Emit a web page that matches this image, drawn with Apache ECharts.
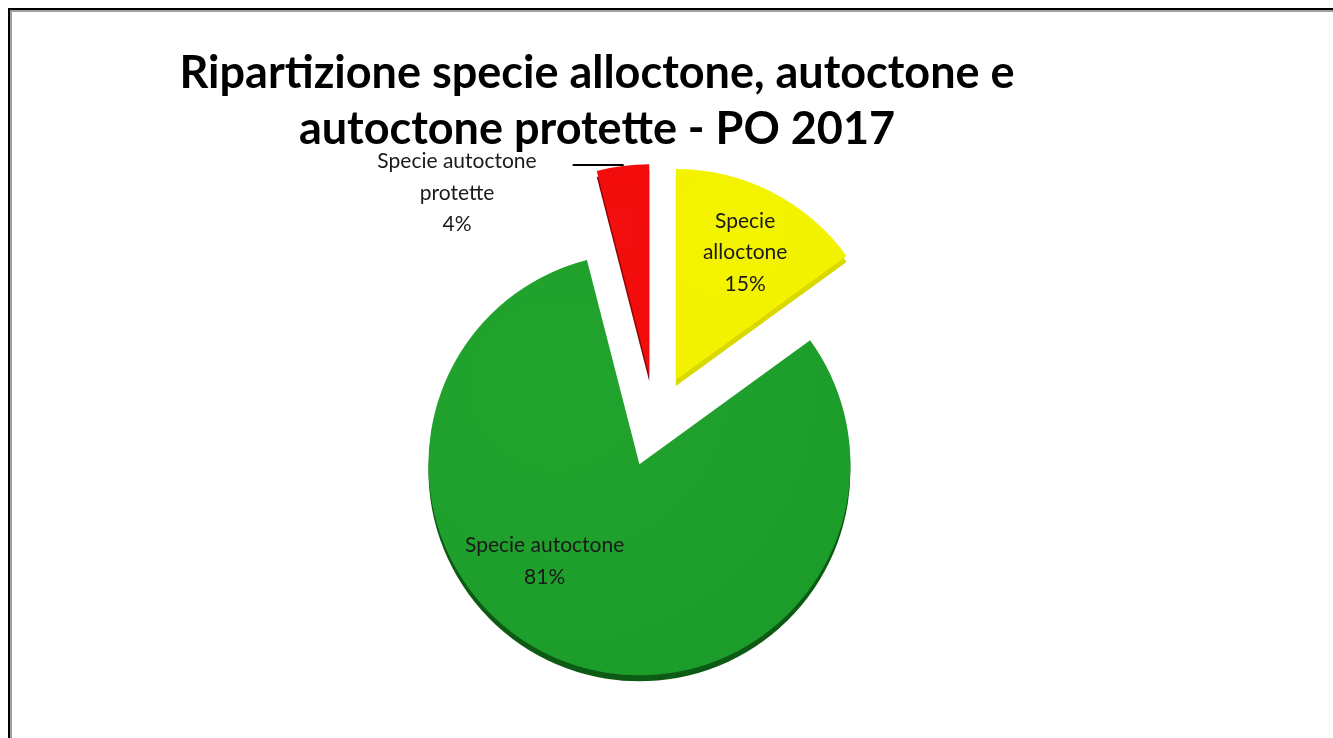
<!DOCTYPE html>
<html>
<head>
<meta charset="utf-8">
<script src="https://cdn.jsdelivr.net/npm/echarts@6/dist/echarts.min.js"></script>
<style>
html,body{margin:0;padding:0;background:#fff;}
#chart{width:1333px;height:738px;}
</style>
</head>
<body>
<div id="chart"></div>
<script>
// Data
const categories = ['Specie alloctone', 'Specie autoctone', 'Specie autoctone protette'];
const labelLines = [['Specie', 'alloctone'], ['Specie autoctone'], ['Specie autoctone', 'protette']];
const shares = [15, 81, 4];
const topColors = ['#f2f200', '#1b9c2a', '#f20c0c'];
const lightColors = ['#f4f400', '#22a42e', '#f41010'];
const sideColors = ['#d9d900', '#0d5a14', '#8e0505'];
const titleText = 'Ripartizione specie alloctone, autoctone e\nautoctone protette - PO 2017';

const chart = echarts.init(document.getElementById('chart'), null, {renderer: 'canvas'});

function shade(i) {
  return {
    type: 'radial', x: 0.3, y: 0.3, r: 0.9,
    colorStops: [{offset: 0, color: lightColors[i]}, {offset: 1, color: topColors[i]}]
  };
}

function fmt(p) {
  const lines = labelLines[p.dataIndex].concat([Math.round(p.percent) + '%']);
  return lines.map(l => '{c|' + l + '}').join('\n');
}

const topData = categories.map((n, i) => ({
  name: n,
  value: shares[i],
  selected: true,
  itemStyle: {color: shade(i)},
  label: i === 2 ? {
    position: 'outside',
    padding: [56, 31, 0, 0]
  } : {
    position: 'inside'
  },
  labelLine: {show: i === 2}
}));

const sideData = categories.map((n, i) => ({
  name: n,
  value: shares[i],
  selected: true,
  itemStyle: {color: sideColors[i]}
}));

const option = {
  animation: false,
  backgroundColor: '#fff',
  title: {
    text: titleText,
    left: 597,
    top: 45,
    padding: 0,
    textAlign: 'center',
    textStyle: {
      fontFamily: 'Lato',
      fontWeight: 'bold',
      fontSize: 45,
      lineHeight: 56,
      color: '#000'
    }
  },
  graphic: [
    {type: 'rect', silent: true, z: 100,
     shape: {x: 9, y: 9, width: 2000, height: 2000},
     style: {fill: null, stroke: '#000', lineWidth: 2}},
    {type: 'rect', silent: true, z: 100,
     shape: {x: 11, y: 11, width: 2000, height: 2000},
     style: {fill: null, stroke: '#a0a0a0', lineWidth: 2}}
  ],
  series: [
    {
      type: 'pie',
      silent: true,
      center: [655, 427],
      radius: 211,
      startAngle: 90,
      clockwise: true,
      selectedMode: 'multiple',
      selectedOffset: 46,
      z: 1,
      label: {show: false},
      labelLine: {show: false},
      data: sideData
    },
    {
      type: 'pie',
      silent: true,
      center: [655, 421],
      radius: 211,
      startAngle: 90,
      clockwise: true,
      selectedMode: 'multiple',
      selectedOffset: 46,
      z: 2,
      label: {
        show: true,
        formatter: fmt,
        fontFamily: 'Lato',
        fontSize: 21,
        color: '#1a1a1a',
        rich: {
          c: {align: 'center', fontFamily: 'Lato', fontSize: 21, lineHeight: 31.5, color: '#1a1a1a'}
        }
      },
      labelLine: {
        show: true,
        length: 1,
        length2: 50,
        lineStyle: {color: '#000', width: 2}
      },
      labelLayout: function (p) {
        if (p.dataIndex === 0) return {dx: 20, dy: -31};
        if (p.dataIndex === 1) return {dx: -58, dy: -5};
        return {};
      },
      data: topData
    }
  ]
};
chart.setOption(option);
</script>
</body>
</html>
